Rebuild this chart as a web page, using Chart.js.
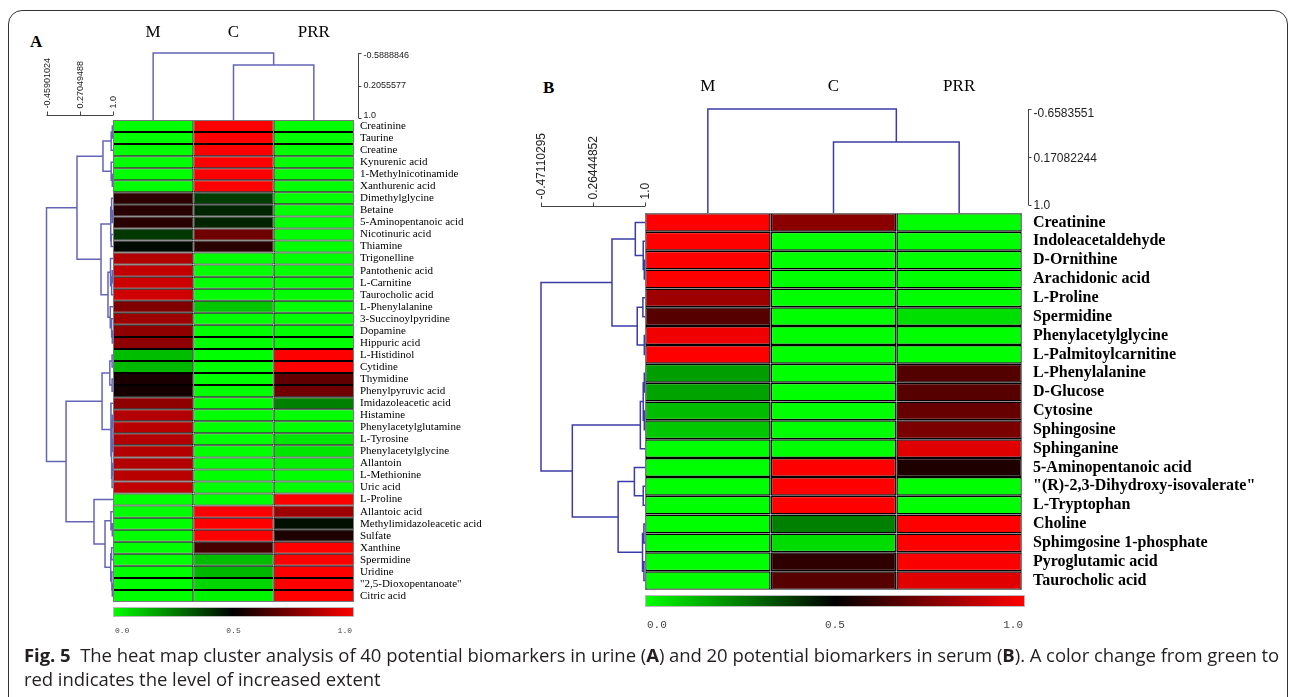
<!DOCTYPE html>
<html><head><meta charset="utf-8">
<script src="https://cdn.jsdelivr.net/npm/chart.js@4.4.0/dist/chart.umd.min.js"></script>
<style>
html,body{margin:0;padding:0;background:#fff;width:1290px;height:697px;overflow:hidden;position:relative}
#frame{position:absolute;left:8px;top:10px;width:1280px;height:760px;border:1.5px solid #333;border-radius:14px;box-sizing:border-box}
canvas{position:absolute;top:0}
#cA{left:0}
#cB{left:520px}
.pl{position:absolute;font:bold 17px 'Liberation Serif',serif;line-height:20px;color:#000}
#cap{position:absolute;left:24px;top:643px;font:18.5px 'Open Sans',sans-serif;line-height:24px;color:#231f20;white-space:nowrap;letter-spacing:-0.05px}
#cap b{font-weight:700}
</style></head><body>
<div id="frame"></div>
<div class="pl" style="left:30px;top:32px">A</div>
<div class="pl" style="left:543px;top:78px">B</div>
<canvas id="cA" width="520" height="645"></canvas>
<canvas id="cB" width="770" height="645"></canvas>
<div id="cap"><b>Fig. 5</b>&nbsp; The heat map cluster analysis of 40 potential biomarkers in urine (<b>A</b>) and 20 potential biomarkers in serum (<b>B</b>). A color change from green to<br>red indicates the level of increased extent</div>
<script>
// ---------- Panel A (urine) ----------
const groupsA = ['M', 'C', 'PRR'];
const rowsA = ['Creatinine','Taurine','Creatine','Kynurenic acid','1-Methylnicotinamide','Xanthurenic acid','Dimethylglycine','Betaine','5-Aminopentanoic acid','Nicotinuric acid','Thiamine','Trigonelline','Pantothenic acid','L-Carnitine','Taurocholic acid','L-Phenylalanine','3-Succinoylpyridine','Dopamine','Hippuric acid','L-Histidinol','Cytidine','Thymidine','Phenylpyruvic acid','Imidazoleacetic acid','Histamine','Phenylacetylglutamine','L-Tyrosine','Phenylacetylglycine','Allantoin','L-Methionine','Uric acid','L-Proline','Allantoic acid','Methylimidazoleacetic acid','Sulfate','Xanthine','Spermidine','Uridine','"2,5-Dioxopentanoate"','Citric acid'];
const valuesA_M   = [0,0,0,0,0,0, 0.59,0.58,0.58,0.39,0.48, 0.85,0.88,0.90,0.91,0.75,0.81,0.78,0.78, 0.13,0.14,0.55,0.54,0.78,0.85,0.86,0.85,0.85,0.85,0.86,0.88, 0,0,0,0,0,0,0,0,0];
const valuesA_C   = [1,1,1,1,1,1, 0.38,0.43,0.43,0.72,0.58, 0,0,0,0,0.11,0,0,0, 0,0,0,0,0,0,0,0,0,0,0,0, 0,1,1,1,0.64,0.13,0.14,0.08,0.02];
const valuesA_PRR = [0,0,0,0,0,0, 0,0,0,0,0, 0,0,0,0,0,0,0,0, 1,1,0.69,0.72,0.25,0,0,0.05,0.05,0.03,0,0, 1,0.81,0.47,0.56,1,1,1,1,1];
// linkage: [childA, childB, similarity]; ids >= n refer to earlier merges
const rowLinkA = [
  [0,1,0.985],[40,2,0.96],[4,5,0.985],[3,42,0.96],[41,43,0.78],
  [7,8,0.985],[6,45,0.97],[9,10,0.96],[46,47,0.95],
  [12,13,0.985],[49,14,0.97],[11,50,0.945],[17,18,0.985],[16,52,0.97],[15,53,0.94],[51,54,0.89],
  [48,55,0.737],[44,56,0.21],
  [19,20,0.98],[21,22,0.98],[58,59,0.93],
  [24,25,0.99],[26,27,0.99],[61,62,0.98],[28,29,0.99],[64,30,0.98],[63,65,0.97],[23,66,0.955],[60,67,0.76],
  [33,34,0.985],[32,69,0.955],[35,36,0.97],[38,39,0.985],[37,72,0.975],[71,73,0.95],[70,74,0.825],[31,75,0.583],
  [68,76,-0.03],[57,77,-0.45901024]
];
const colLinkA = [[1,2,-0.295],[0,3,-0.5888846]];
const rowScaleA = ['-0.45901024','0.27049488','1.0'];
const colScaleA = ['-0.5888846','0.2055577','1.0'];

// ---------- Panel B (serum) ----------
const groupsB = ['M', 'C', 'PRR'];
const rowsB = ['Creatinine','Indoleacetaldehyde','D-Ornithine','Arachidonic acid','L-Proline','Spermidine','Phenylacetylglycine','L-Palmitoylcarnitine','L-Phenylalanine','D-Glucose','Cytosine','Sphingosine','Sphinganine','5-Aminopentanoic acid','"(R)-2,3-Dihydroxy-isovalerate"','L-Tryptophan','Choline','Sphimgosine 1-phosphate','Pyroglutamic acid','Taurocholic acid'];
const valuesB_M   = [1,1,1,1,0.81,0.67,0.97,1, 0.19,0.18,0.13,0.11,0, 0,0,0,0,0,0,0];
const valuesB_C   = [0.77,0,0,0,0,0,0,0, 0,0,0,0,0, 1,1,1,0.25,0.07,0.59,0.67];
const valuesB_PRR = [0,0,0,0,0,0.06,0,0, 0.66,0.67,0.70,0.74,0.94, 0.56,0,0,1,1,0.99,0.94];
const rowLinkB = [
  [2,3,0.99],[1,20,0.975],[0,21,0.863],[4,5,0.97],[6,7,0.99],[23,24,0.89],[22,25,0.533],
  [8,9,0.99],[10,11,0.99],[27,28,0.975],[29,12,0.934],
  [14,15,0.975],[13,31,0.85],[16,17,0.985],[18,19,0.985],[33,34,0.965],[32,35,0.62],
  [30,36,-0.028],[26,37,-0.47110295]
];
const colLinkB = [[1,2,-0.09],[0,3,-0.6583551]];
const rowScaleB = ['-0.47110295','0.26444852','1.0'];
const colScaleB = ['-0.6583551','0.17082244','1.0'];

const colorbarTicks = ['0.0', '0.5', '1.0'];

// ---------- helpers ----------
function heatColor(v) {
  if (v <= 0.5) return 'rgb(0,' + Math.round(255 * (1 - 2 * v)) + ',0)';
  return 'rgb(' + Math.round(255 * (2 * v - 1)) + ',0,0)';
}

function drawTree(ctx, link, n, leafPos, hmap, edge, horiz) {
  const P = [], H = [];
  for (let i = 0; i < n; i++) { P[i] = leafPos(i); H[i] = null; }
  ctx.beginPath();
  link.forEach((m, k) => {
    const a = m[0], b = m[1], h = m[2];
    const ha = H[a] === null ? edge : hmap(H[a]);
    const hb = H[b] === null ? edge : hmap(H[b]);
    const hh = hmap(h);
    if (horiz) {
      ctx.moveTo(ha, P[a]); ctx.lineTo(hh, P[a]); ctx.lineTo(hh, P[b]); ctx.lineTo(hb, P[b]);
    } else {
      ctx.moveTo(P[a], ha); ctx.lineTo(P[a], hh); ctx.lineTo(P[b], hh); ctx.lineTo(P[b], hb);
    }
    P[n + k] = (P[a] + P[b]) / 2; H[n + k] = h;
  });
  ctx.stroke();
}

const dendroPlugin = {
  id: 'dendro',
  afterDatasetsDraw(chart, args, o) {
    const ctx = chart.ctx, ca = chart.chartArea, xs = chart.scales.x, ys = chart.scales.y;
    const n = chart.data.labels.length;
    ctx.save();
    // heatmap outline
    ctx.strokeStyle = '#7a7a7a'; ctx.lineWidth = 1;
    ctx.strokeRect(ca.left + 0.5, ca.top + 0.5, ca.right - ca.left - 1, ca.bottom - ca.top - 1);

    // row dendrogram
    const rMin = parseFloat(o.rowScale[0]);
    const rk = o.rowLen / (1 - rMin);
    const hx = v => ca.left - o.rowGap - (1 - v) * rk;
    ctx.strokeStyle = o.lineColor; ctx.lineWidth = o.lineWidth;
    drawTree(ctx, o.rowLink, n, i => ys.getPixelForValue(i), hx, ca.left, true);

    // column dendrogram
    const cMin = parseFloat(o.colScale[0]);
    const ck = o.colLen / (1 - cMin);
    const vy = v => ca.top - o.colGap - (1 - v) * ck;
    drawTree(ctx, o.colLink, 3, j => xs.getPixelForValue(j + 0.5), vy, ca.top, false);

    // row scale bar
    ctx.strokeStyle = '#444'; ctx.lineWidth = 1; ctx.fillStyle = '#222';
    ctx.font = o.scaleFont;
    const sy = Math.round(ca.top - o.rowBarOff) + 0.5;
    ctx.beginPath();
    ctx.moveTo(hx(rMin), sy); ctx.lineTo(hx(1), sy);
    o.rowScale.forEach(t => { const x = Math.round(hx(parseFloat(t))) + 0.5; ctx.moveTo(x, sy); ctx.lineTo(x, sy - 4); });
    ctx.stroke();
    o.rowScale.forEach(t => {
      ctx.save(); ctx.translate(hx(parseFloat(t)) + 1, sy - 7); ctx.rotate(-Math.PI / 2);
      ctx.textAlign = 'left'; ctx.textBaseline = 'middle'; ctx.fillText(t, 0, 0); ctx.restore();
    });

    // column scale bar
    const sx = Math.round(ca.right + o.colBarOff) + 0.5;
    ctx.beginPath();
    ctx.moveTo(sx, vy(cMin)); ctx.lineTo(sx, vy(1));
    o.colScale.forEach(t => { const y = Math.round(vy(parseFloat(t))) + 0.5; ctx.moveTo(sx, y); ctx.lineTo(sx + 3, y); });
    ctx.stroke();
    ctx.textAlign = 'left'; ctx.textBaseline = 'middle';
    o.colScale.forEach((t, i) => ctx.fillText(t, sx + 5, vy(parseFloat(t)) + o.colLabelShift[i]));

    // colour bar
    const cbTop = ca.bottom + o.cbGap, cbR = ca.right + o.cbExtra;
    const g = ctx.createLinearGradient(ca.left, 0, cbR, 0);
    g.addColorStop(0, heatColor(0)); g.addColorStop(0.5, heatColor(0.5)); g.addColorStop(1, heatColor(1));
    ctx.fillStyle = g; ctx.fillRect(ca.left, cbTop, cbR - ca.left, o.cbH);
    ctx.strokeStyle = '#bbb'; ctx.strokeRect(ca.left + 0.5, cbTop + 0.5, cbR - ca.left - 1, o.cbH - 1);
    ctx.fillStyle = '#444'; ctx.font = o.cbFont; ctx.textBaseline = 'middle';
    const ly = cbTop + o.cbH + o.cbLabelOff;
    ctx.textAlign = 'left'; ctx.fillText(o.cbTicks[0], ca.left + 2, ly);
    ctx.textAlign = 'center'; ctx.fillText(o.cbTicks[1], (ca.left + cbR) / 2, ly);
    ctx.textAlign = 'right'; ctx.fillText(o.cbTicks[2], cbR - 2, ly);
    ctx.restore();
  }
};

function makeHeat(id, groups, rows, vals, cfg) {
  return new Chart(document.getElementById(id), {
    type: 'bar',
    data: {
      labels: rows,
      datasets: groups.map((gname, j) => ({
        label: gname,
        data: rows.map(() => 1),
        backgroundColor: vals[j].map(heatColor),
        borderColor: '#000', borderWidth: cfg.cellBorder, borderSkipped: false, inflateAmount: 0,
        barPercentage: 1, categoryPercentage: 1
      }))
    },
    options: {
      responsive: false, animation: false, events: [],
      indexAxis: 'y',
      layout: { padding: { left: cfg.padL, right: 0, top: 0, bottom: cfg.padB } },
      plugins: { legend: { display: false }, tooltip: { enabled: false }, dendro: cfg.dendro },
      scales: {
        x: { type: 'linear', min: 0, max: groups.length, stacked: true, display: false },
        y: {
          type: 'category', stacked: true, position: 'right', offset: true,
          grid: { display: false, drawTicks: false }, border: { display: false },
          ticks: { autoSkip: false, padding: cfg.rowPad, font: cfg.rowFont, color: '#000' },
          afterFit: s => { s.width = cfg.yW; }
        },
        x2: {
          type: 'category', labels: groups, position: 'top', offset: true,
          grid: { display: false, drawTicks: false }, border: { display: false },
          ticks: { padding: cfg.colPad, font: cfg.colFont, color: '#000' },
          afterFit: s => { s.height = cfg.topH; }
        }
      }
    },
    plugins: [dendroPlugin]
  });
}

makeHeat('cA', groupsA, rowsA, [valuesA_M, valuesA_C, valuesA_PRR], {
  padL: 113, padB: 43, yW: 166, topH: 120, rowPad: 6, colPad: 77, cellBorder: 1,
  rowFont: { family: 'Liberation Serif', size: 11 },
  colFont: { family: 'Liberation Serif', size: 17 },
  dendro: {
    rowLink: rowLinkA, colLink: colLinkA, rowScale: rowScaleA, colScale: colScaleA,
    rowLen: 66.5, rowGap: 0, colLen: 65, colGap: 2, rowBarOff: 5, colBarOff: 4, colLabelShift: [3, 0, -2],
    lineColor: '#6464b8', lineWidth: 1.5, scaleFont: '9px "Liberation Sans"',
    cbGap: 5, cbH: 10, cbExtra: 0, cbLabelOff: 14, cbFont: '8px "Liberation Mono"', cbTicks: colorbarTicks
  }
});

makeHeat('cB', groupsB, rowsB, [valuesB_M, valuesB_C, valuesB_PRR], {
  padL: 125, padB: 55, yW: 268, topH: 213, rowPad: 11, colPad: 116, cellBorder: 1.5,
  rowFont: { family: 'Liberation Serif', size: 16, weight: 'bold' },
  colFont: { family: 'Liberation Serif', size: 17 },
  dendro: {
    rowLink: rowLinkB, colLink: colLinkB, rowScale: rowScaleB, colScale: colScaleB,
    rowLen: 104, rowGap: 0, colLen: 96, colGap: 8, rowBarOff: 7, colBarOff: 6, colLabelShift: [5, 2, 1],
    lineColor: '#3c3ca8', lineWidth: 1.5, scaleFont: '12px "Liberation Sans"',
    cbGap: 5, cbH: 12, cbExtra: 3, cbLabelOff: 18, cbFont: '11px "Liberation Mono"', cbTicks: colorbarTicks
  }
});
</script>
</body></html>
